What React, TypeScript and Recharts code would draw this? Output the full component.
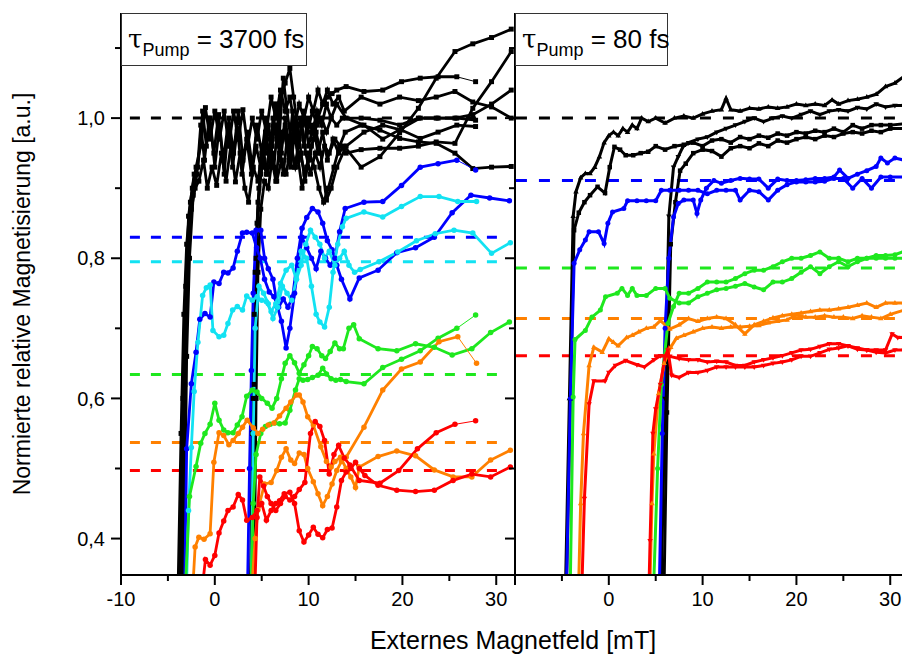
import React from 'react';
import { LineChart, Line, XAxis, YAxis } from 'recharts';

type Pt = [number, number];
type MarkerKind = 'square' | 'circle' | 'tri' | 'triDown';

interface Series {
  pts: Pt[];
  color: string;
  marker: MarkerKind;
  thinTail?: boolean;
}

const FONT = '"Liberation Sans", Arial, Helvetica, sans-serif';

const BLACK = '#000000';
const BLUE = '#0000ff';
const CYAN = '#12e2f2';
const GREEN = '#1ee81e';
const ORANGE = '#ff8000';
const RED = '#ff0000';

const X_DOMAIN: [number, number] = [-10, 32];
const Y_DOMAIN: [number, number] = [0.348, 1.15];
const X_TICKS = [-10, -5, 0, 5, 10, 15, 20, 25, 30];
const Y_TICKS = [0.4, 0.5, 0.6, 0.7, 0.8, 0.9, 1.0, 1.1];

// ---------- left panel: tau_pump = 3700 fs ----------
const left3700Black1: Pt[] = [[-3.9,0.34],[-3.6,0.55],[-3.3,0.72],[-3.0,0.82],[-2.6,0.88],[-2.2,0.92],[-1.8,0.93],[-1.3,1.01],[-0.9,0.96],[-0.5,1.0],[0.0,0.93],[0.5,0.99],[1.0,0.92],[1.5,1.0],[2.0,0.95],[2.5,1.01],[3.0,0.94],[3.5,0.98],[4.0,0.93],[4.5,0.99],[5.0,0.95],[5.5,1.0],[6.0,0.96],[6.5,1.02],[7.0,0.97],[7.5,0.99],[8.0,0.95],[8.5,1.0],[9.0,0.97],[9.5,1.01],[10.0,0.96],[10.5,0.99],[11.0,0.95],[11.5,0.98],[12.0,0.94],[12.6,0.97],[13.2,0.95],[13.8,0.96],[15.6,0.93],[17.6,0.945],[19.7,0.979],[21.7,1.014],[23.6,1.057],[25.6,1.095],[27.5,1.106],[29.5,1.115],[31.6,1.127]];
const left3700Black2: Pt[] = [[-3.7,0.34],[-3.4,0.6],[-3.1,0.76],[-2.8,0.86],[-2.4,0.9],[-2.0,0.93],[-1.5,0.96],[-1.0,1.015],[-0.5,0.97],[0.0,1.01],[0.5,0.97],[1.0,1.01],[1.5,0.96],[2.0,1.01],[2.5,0.97],[3.0,1.012],[3.5,0.96],[4.0,1.0],[4.5,0.97],[5.0,1.01],[5.5,0.98],[6.0,1.03],[6.5,1.0],[7.0,1.04],[7.5,1.01],[8.0,1.03],[8.5,0.99],[9.0,1.02],[9.5,1.0],[10.0,1.03],[10.5,1.01],[11.0,1.04],[11.5,1.02],[12.0,1.04],[12.6,1.02],[13.2,1.03],[13.8,1.01],[15.6,1.03],[17.6,1.02],[19.7,1.03],[21.7,1.025],[23.6,1.03],[25.6,1.038],[27.5,1.023],[29.5,1.016],[31.6,1.0]];
const left3700Black3: Pt[] = [[-3.5,0.34],[-3.2,0.62],[-2.9,0.8],[-2.5,0.87],[-2.1,0.9],[-1.7,0.91],[-1.2,0.94],[-0.8,0.9],[-0.3,0.93],[0.2,0.904],[0.7,0.95],[1.2,0.91],[1.7,0.96],[2.2,0.909],[2.7,0.95],[3.2,0.9],[3.6,0.88],[4.1,0.93],[4.6,0.91],[5.1,0.96],[5.6,0.92],[6.1,0.95],[6.6,0.91],[7.1,0.94],[7.6,0.92],[8.1,0.96],[8.6,0.93],[9.1,0.95],[9.6,0.92],[10.1,0.95],[10.6,0.93],[11.1,0.9],[11.6,0.88],[12.1,0.9],[12.7,0.93],[13.3,0.96],[13.9,0.98],[15.6,0.99],[17.6,0.983],[19.7,0.971],[21.7,0.966],[23.6,0.964],[25.6,0.95],[27.5,0.928],[29.5,0.93],[31.6,0.931]];
const left3700Black4: Pt[] = [[-3.3,0.34],[-3.0,0.66],[-2.7,0.8],[-2.3,0.89],[-1.9,0.92],[-1.5,0.99],[-1.1,0.94],[-0.6,1.0],[-0.1,0.95],[0.4,1.005],[0.9,0.94],[1.4,0.99],[1.9,0.93],[2.4,0.985],[2.9,0.92],[3.4,0.97],[3.9,0.92],[4.4,0.96],[4.9,0.93],[5.4,0.98],[5.9,0.94],[6.4,0.99],[6.9,0.95],[7.4,0.98],[7.9,0.94],[8.4,0.99],[8.9,0.96],[9.4,1.0],[9.9,0.98],[10.4,1.01],[10.9,0.99],[11.4,1.0],[11.9,0.98],[12.4,1.0],[13.0,0.99],[13.6,1.0],[15.6,1.0],[17.6,0.997],[19.7,0.99],[21.7,1.0],[23.6,1.0],[25.6,1.0],[27.5,1.005],[29.5,1.02],[31.6,1.04]];
const left3700Black5: Pt[] = [[3.8,0.34],[4.0,0.55],[4.2,0.72],[4.5,0.85],[4.9,0.92],[5.3,0.95],[5.7,0.99],[6.1,0.96],[6.5,1.02],[6.9,0.98],[7.3,1.057],[7.7,1.01],[8.1,0.97],[8.5,0.93],[8.9,0.96],[9.3,0.99],[9.7,0.95],[10.2,0.92],[10.7,0.95],[11.2,0.93],[11.7,0.96],[12.2,0.95],[12.8,0.97],[13.4,0.96],[14.0,0.95],[15.6,0.955],[17.6,0.957],[19.7,0.957],[21.7,0.96],[23.6,0.966],[25.6,0.964],[27.5,1.014],[29.5,1.052],[31.6,1.095]];
const left3700Black6: Pt[] = [[3.9,0.34],[4.1,0.6],[4.3,0.78],[4.6,0.88],[5.0,0.93],[5.4,0.97],[5.8,0.94],[6.2,1.0],[6.6,0.97],[7.0,1.03],[7.5,1.05],[8.0,1.071],[8.4,1.03],[8.8,0.99],[9.2,0.95],[9.6,0.91],[10.0,0.94],[10.5,0.97],[11.0,1.0],[11.5,1.02],[12.0,1.03],[12.5,1.035],[13.0,1.04],[14.0,1.045],[15.9,1.038],[17.9,1.04],[19.9,1.052],[21.9,1.057],[23.8,1.059],[25.8,1.059],[27.8,1.052]];
const left3700Black7: Pt[] = [[4.0,0.34],[4.2,0.62],[4.4,0.8],[4.7,0.9],[5.1,0.94],[5.5,0.92],[5.9,0.97],[6.3,0.93],[6.7,0.99],[7.1,0.95],[7.5,1.0],[7.9,0.96],[8.3,1.01],[8.7,0.97],[9.1,1.0],[9.5,0.96],[9.9,1.0],[10.4,0.98],[10.9,1.01],[11.4,0.99],[11.9,1.02],[12.4,1.0],[13.0,1.02],[14.0,1.0],[15.9,0.99],[17.9,0.97],[19.9,0.985],[21.9,1.0],[23.8,1.0],[25.8,1.0],[27.8,0.997]];
const left3700Black8: Pt[] = [[4.2,0.34],[4.4,0.6],[4.6,0.78],[4.9,0.87],[5.3,0.91],[5.7,0.9],[6.1,0.94],[6.5,0.91],[6.9,0.96],[7.3,0.92],[7.7,0.97],[8.1,0.93],[8.5,0.98],[8.9,0.94],[9.3,0.9],[9.8,0.93],[10.3,0.96],[10.8,0.98],[11.3,0.95],[11.9,0.883],[12.4,0.9],[13.0,0.93],[14.0,0.96],[15.9,0.98],[17.9,0.99],[19.9,0.983],[21.9,0.971],[23.8,0.98],[25.8,0.99],[27.8,0.988]];

const left3700BlueDown: Pt[] = [[-3.2,0.34],[-3.0,0.528],[-2.5,0.621],[-2.0,0.666],[-1.6,0.713],[-1.05,0.721],[-0.5,0.716],[-0.1,0.766],[0.45,0.764],[0.95,0.78],[1.4,0.779],[1.95,0.786],[2.4,0.81],[2.95,0.836],[3.4,0.837],[4.0,0.836],[4.45,0.815],[4.85,0.8],[5.3,0.77],[5.8,0.752],[6.3,0.745],[6.8,0.73],[7.3,0.742],[7.8,0.73],[8.3,0.745],[8.8,0.8],[9.3,0.843],[9.8,0.858],[10.4,0.871],[11.0,0.866],[11.5,0.85],[12.0,0.825],[12.5,0.812],[13.0,0.79],[13.5,0.77],[14.4,0.742],[15.4,0.772],[17.4,0.783],[19.4,0.808],[21.4,0.815],[23.4,0.83],[25.3,0.865],[27.3,0.89],[29.3,0.886],[31.4,0.882]];
const left3700BlueUp: Pt[] = [[3.5,0.34],[3.7,0.5],[3.9,0.64],[4.1,0.75],[4.4,0.84],[4.9,0.84],[5.3,0.8],[5.7,0.785],[6.2,0.77],[6.7,0.73],[7.1,0.71],[7.6,0.672],[8.0,0.7],[8.5,0.75],[8.9,0.79],[9.3,0.83],[9.8,0.815],[10.3,0.8],[10.8,0.785],[11.3,0.81],[11.8,0.8],[12.3,0.79],[12.8,0.8],[13.3,0.838],[13.9,0.871],[15.9,0.88],[17.9,0.881],[19.9,0.904],[21.9,0.93],[23.8,0.935],[25.8,0.94],[27.8,0.926]];
const left3700CyanDown: Pt[] = [[-3.0,0.34],[-2.8,0.44],[-2.5,0.53],[-2.2,0.61],[-1.8,0.68],[-1.3,0.747],[-0.9,0.758],[-0.5,0.762],[-0.2,0.697],[0.45,0.688],[0.95,0.69],[1.4,0.707],[1.9,0.726],[2.4,0.731],[2.95,0.726],[3.4,0.746],[4.0,0.74],[4.5,0.745],[5.0,0.74],[5.5,0.738],[6.0,0.724],[6.5,0.735],[7.0,0.764],[7.6,0.783],[8.2,0.79],[8.7,0.77],[9.2,0.81],[9.8,0.8],[10.3,0.76],[10.8,0.72],[11.2,0.709],[11.7,0.702],[12.2,0.73],[12.6,0.78],[13.1,0.82],[13.6,0.845],[14.0,0.857],[15.9,0.866],[17.9,0.859],[19.9,0.874],[21.9,0.888],[23.9,0.888],[25.9,0.881],[27.9,0.881]];
const left3700CyanUp: Pt[] = [[3.9,0.34],[4.1,0.55],[4.3,0.7],[4.7,0.76],[5.2,0.75],[5.7,0.735],[6.2,0.714],[6.7,0.73],[7.2,0.76],[7.7,0.75],[8.2,0.74],[8.7,0.77],[9.2,0.79],[9.7,0.82],[10.2,0.84],[10.7,0.83],[11.2,0.82],[11.7,0.8],[12.2,0.81],[12.8,0.79],[13.3,0.8],[13.8,0.81],[14.3,0.79],[14.9,0.78],[15.5,0.784],[17.5,0.795],[19.5,0.809],[21.5,0.825],[23.5,0.835],[25.5,0.84],[27.5,0.836],[29.5,0.807],[31.5,0.822]];
const left3700GreenDown: Pt[] = [[-3.1,0.34],[-2.7,0.46],[-2.0,0.503],[-1.5,0.536],[-1.05,0.55],[-0.5,0.563],[0.0,0.593],[0.45,0.569],[0.95,0.555],[1.4,0.551],[1.95,0.551],[2.4,0.562],[2.9,0.574],[3.4,0.603],[4.0,0.612],[4.5,0.609],[5.0,0.6],[5.6,0.593],[6.1,0.586],[6.6,0.6],[7.1,0.628],[7.5,0.65],[8.0,0.661],[8.5,0.651],[9.0,0.636],[9.5,0.648],[10.0,0.661],[10.4,0.674],[10.9,0.671],[11.4,0.661],[11.8,0.657],[12.3,0.667],[12.8,0.679],[13.3,0.671],[13.7,0.671],[14.3,0.7],[14.8,0.705],[15.4,0.685],[17.4,0.671],[19.4,0.668],[21.4,0.678],[23.4,0.673],[25.3,0.662],[27.4,0.671],[29.4,0.694],[31.4,0.709]];
const left3700GreenUp: Pt[] = [[3.9,0.34],[4.1,0.45],[4.4,0.52],[4.9,0.55],[5.4,0.56],[5.9,0.563],[6.4,0.565],[6.9,0.564],[7.5,0.565],[8.0,0.583],[8.6,0.612],[9.0,0.628],[9.4,0.626],[9.9,0.627],[10.4,0.63],[11.0,0.633],[11.5,0.643],[11.9,0.635],[12.4,0.628],[12.9,0.626],[13.4,0.627],[14.0,0.624],[15.9,0.621],[17.9,0.644],[19.9,0.656],[21.9,0.668],[23.8,0.686],[25.8,0.7],[27.8,0.719]];
const left3700OrangeDown: Pt[] = [[-2.3,0.34],[-2.1,0.388],[-1.7,0.402],[-1.15,0.399],[-0.5,0.407],[-0.1,0.509],[0.45,0.551],[0.95,0.547],[1.5,0.534],[1.95,0.54],[2.5,0.55],[2.95,0.559],[3.45,0.569],[4.1,0.558],[4.6,0.55],[5.1,0.556],[5.7,0.562],[6.3,0.565],[6.9,0.575],[7.6,0.586],[8.1,0.595],[8.7,0.605],[9.0,0.605],[9.4,0.595],[9.9,0.574],[10.5,0.562],[11.3,0.531],[11.9,0.51],[12.4,0.502],[12.8,0.51],[13.4,0.516],[14.0,0.5],[14.5,0.488],[15.0,0.473],[15.4,0.502],[17.4,0.517],[19.4,0.525],[21.4,0.518],[23.4,0.498],[25.4,0.488],[27.4,0.488],[29.4,0.512],[31.5,0.526]];
const left3700OrangeUp: Pt[] = [[4.0,0.34],[4.3,0.4],[4.6,0.441],[5.3,0.478],[6.0,0.48],[6.6,0.497],[7.1,0.516],[7.6,0.528],[8.1,0.512],[8.5,0.507],[9.0,0.522],[9.5,0.52],[9.9,0.5],[10.5,0.481],[11.0,0.464],[11.5,0.447],[12.0,0.46],[12.5,0.478],[13.0,0.497],[13.5,0.51],[14.0,0.516],[15.9,0.559],[17.9,0.612],[19.9,0.642],[21.9,0.652],[23.9,0.681],[25.9,0.688],[27.9,0.65]];
const left3700RedDown: Pt[] = [[-1.25,0.34],[-1.0,0.37],[-0.5,0.362],[0.0,0.376],[0.45,0.408],[0.95,0.425],[1.4,0.44],[1.95,0.445],[2.5,0.463],[2.95,0.455],[3.4,0.426],[4.0,0.43],[4.5,0.44],[5.0,0.45],[5.5,0.426],[6.0,0.44],[6.5,0.45],[6.9,0.454],[7.4,0.464],[8.0,0.466],[8.5,0.45],[9.0,0.411],[9.5,0.395],[10.0,0.405],[10.5,0.416],[11.0,0.406],[11.5,0.401],[12.0,0.413],[12.5,0.415],[13.0,0.445],[13.5,0.483],[14.0,0.495],[14.5,0.5],[15.0,0.509],[15.4,0.5],[16.0,0.49],[17.4,0.476],[19.4,0.469],[21.4,0.467],[23.4,0.469],[25.4,0.483],[27.4,0.492],[29.4,0.488],[31.5,0.502]];
const left3700RedUp: Pt[] = [[4.3,0.34],[4.5,0.43],[4.8,0.488],[5.2,0.475],[5.6,0.46],[6.0,0.45],[6.5,0.44],[7.0,0.45],[7.5,0.46],[8.0,0.455],[8.5,0.46],[9.0,0.47],[9.6,0.48],[10.2,0.55],[10.7,0.567],[11.2,0.56],[11.7,0.54],[12.2,0.492],[12.7,0.52],[13.2,0.533],[13.8,0.515],[14.4,0.505],[15.4,0.483],[17.6,0.479],[19.6,0.497],[21.6,0.528],[23.6,0.551],[25.6,0.563],[27.8,0.568]];

// saturation levels (dashed)
const left3700Levels = [1.0, 0.83, 0.795, 0.634, 0.537, 0.497];
const left3700LevelColors = [BLACK, BLUE, CYAN, GREEN, ORANGE, RED];

// ---------- right panel: tau_pump = 80 fs ----------
const right80Black1: Pt[] = [[-4.6,0.34],[-4.2,0.6],[-3.8,0.86],[-3.5,0.895],[-3.0,0.915],[-2.5,0.921],[-2.0,0.921],[-1.5,0.93],[-1.0,0.945],[-0.5,0.965],[0.0,0.975],[0.5,0.98],[1.0,0.975],[1.5,0.985],[2.0,0.98],[2.5,0.99],[3.0,0.985],[3.5,1.0],[4.2,0.995],[5.0,1.0],[6.0,0.993],[7.0,1.0],[8.0,1.003],[9.0,1.0],[10.0,1.006],[11.0,1.01],[12.0,1.012],[12.5,1.028],[13.0,1.012],[14.0,1.01],[15.0,1.014],[16.0,1.013],[17.0,1.016],[18.0,1.014],[19.0,1.016],[20.0,1.02],[21.0,1.018],[22.0,1.02],[23.0,1.018],[23.8,1.026],[24.5,1.02],[25.5,1.025],[26.5,1.027],[27.5,1.03],[28.5,1.034],[29.5,1.045],[30.5,1.05],[31.5,1.06]];
const right80Black2: Pt[] = [[-4.5,0.34],[-4.1,0.6],[-3.7,0.84],[-3.2,0.865],[-2.6,0.88],[-2.0,0.89],[-1.2,0.902],[-0.4,0.893],[0.1,0.93],[0.6,0.959],[1.2,0.955],[1.8,0.947],[2.6,0.947],[3.4,0.95],[4.2,0.952],[5.0,0.96],[6.0,0.955],[7.0,0.96],[8.0,0.962],[9.0,0.965],[10.0,0.96],[11.0,0.968],[12.0,0.97],[13.0,0.965],[14.0,0.973],[15.0,0.97],[16.0,0.975],[17.0,0.972],[18.0,0.978],[19.0,0.975],[20.0,0.98],[21.0,0.978],[22.0,0.982],[23.0,0.98],[24.0,0.985],[25.0,0.98],[26.0,0.99],[27.0,0.985],[28.0,0.99],[29.0,0.99],[30.0,0.99],[31.5,0.992]];
const right80Black3: Pt[] = [[5.6,0.34],[6.0,0.6],[6.4,0.86],[6.9,0.93],[7.4,0.945],[7.9,0.959],[8.5,0.965],[9.5,0.97],[10.5,0.973],[11.5,0.98],[12.5,0.985],[13.5,0.99],[14.5,0.995],[15.5,1.0],[16.5,0.995],[17.5,1.0],[18.5,1.003],[19.5,1.0],[20.5,1.005],[21.5,1.01],[22.5,1.005],[23.5,1.01],[24.5,1.012],[25.5,1.01],[26.5,1.015],[27.5,1.013],[28.5,1.02],[29.5,1.016],[30.5,1.018],[31.5,1.018]];
const right80Black4: Pt[] = [[5.9,0.34],[6.2,0.58],[6.6,0.82],[7.1,0.88],[7.6,0.925],[8.2,0.935],[9.0,0.95],[10.0,0.955],[11.0,0.953],[12.0,0.945],[13.0,0.957],[14.0,0.96],[15.0,0.957],[16.0,0.964],[17.0,0.96],[18.0,0.968],[19.0,0.965],[20.0,0.97],[21.0,0.973],[22.0,0.97],[23.0,0.975],[24.0,0.973],[25.0,0.978],[26.0,0.98],[27.0,0.978],[28.0,0.982],[29.0,0.98],[30.0,0.985],[31.5,0.985]];
const right80BlueDown: Pt[] = [[-4.5,0.34],[-4.1,0.6],[-3.7,0.793],[-3.1,0.812],[-2.5,0.826],[-2.1,0.838],[-1.1,0.838],[-0.5,0.821],[-0.1,0.85],[0.4,0.866],[1.6,0.871],[2.0,0.882],[3.0,0.882],[4.0,0.882],[5.0,0.882],[5.6,0.897],[6.5,0.897],[7.5,0.897],[8.5,0.897],[9.5,0.897],[10.5,0.892],[11.5,0.897],[12.5,0.897],[13.5,0.897],[14.0,0.883],[15.0,0.897],[16.0,0.895],[17.0,0.883],[18.0,0.897],[19.0,0.905],[20.0,0.909],[21.0,0.909],[22.0,0.909],[23.0,0.91],[24.0,0.914],[25.0,0.914],[26.0,0.9],[27.0,0.914],[28.0,0.9],[29.0,0.916],[30.0,0.916],[31.5,0.916]];
const right80BlueUp: Pt[] = [[5.4,0.34],[5.7,0.55],[6.0,0.7],[6.4,0.8],[6.9,0.859],[7.4,0.878],[8.0,0.883],[9.0,0.883],[9.4,0.864],[9.8,0.883],[10.4,0.9],[11.2,0.911],[12.0,0.907],[13.0,0.911],[14.0,0.914],[15.0,0.913],[16.0,0.913],[17.0,0.9],[18.0,0.913],[19.0,0.911],[20.0,0.911],[21.0,0.912],[22.0,0.914],[23.0,0.914],[24.0,0.916],[24.6,0.926],[25.5,0.914],[26.5,0.92],[27.5,0.925],[28.5,0.931],[29.0,0.943],[29.7,0.936],[30.5,0.943],[31.5,0.94]];
const right80GreenDown: Pt[] = [[-4.1,0.34],[-3.8,0.602],[-3.6,0.684],[-2.5,0.697],[-1.8,0.716],[-0.9,0.726],[-0.35,0.745],[0.9,0.75],[1.4,0.757],[2.0,0.747],[2.5,0.757],[3.0,0.747],[4.0,0.747],[5.0,0.757],[6.0,0.757],[6.5,0.743],[7.5,0.736],[8.5,0.736],[9.5,0.745],[10.5,0.75],[11.5,0.755],[12.5,0.757],[13.5,0.76],[14.5,0.764],[15.5,0.759],[16.5,0.755],[17.5,0.766],[18.5,0.766],[19.5,0.771],[20.5,0.78],[21.5,0.788],[22.5,0.778],[23.5,0.788],[24.5,0.795],[25.5,0.788],[26.5,0.795],[27.5,0.8],[28.5,0.8],[29.5,0.8],[30.5,0.8],[31.5,0.8]];
const right80GreenUp: Pt[] = [[4.8,0.34],[5.2,0.5],[5.6,0.62],[6.3,0.707],[6.9,0.731],[7.5,0.75],[8.5,0.75],[9.5,0.757],[10.5,0.766],[11.5,0.766],[12.5,0.766],[13.5,0.771],[14.5,0.778],[15.5,0.783],[16.5,0.783],[17.5,0.788],[18.5,0.795],[19.5,0.8],[20.5,0.8],[21.5,0.804],[22.5,0.809],[23.5,0.8],[24.5,0.8],[25.5,0.795],[26.5,0.8],[27.5,0.8],[28.5,0.804],[29.5,0.804],[30.5,0.805],[31.5,0.81]];
const right80OrangeDown: Pt[] = [[-3.2,0.34],[-3.0,0.45],[-2.7,0.55],[-2.1,0.647],[-1.6,0.673],[-0.7,0.666],[0.0,0.685],[0.5,0.68],[1.0,0.675],[1.9,0.687],[2.5,0.69],[3.2,0.695],[4.0,0.7],[4.8,0.702],[5.5,0.711],[6.5,0.699],[7.5,0.705],[8.5,0.714],[9.5,0.71],[10.5,0.714],[11.5,0.716],[12.5,0.714],[13.5,0.705],[14.5,0.692],[15.5,0.705],[16.5,0.71],[17.5,0.715],[18.5,0.718],[19.5,0.72],[20.5,0.722],[21.5,0.724],[22.5,0.726],[23.5,0.726],[24.5,0.728],[25.5,0.73],[26.5,0.733],[27.5,0.736],[28.5,0.73],[29.5,0.736],[30.5,0.736],[31.5,0.736]];
const right80OrangeUp: Pt[] = [[4.4,0.34],[4.6,0.45],[4.8,0.521],[5.3,0.607],[5.9,0.65],[6.6,0.673],[7.2,0.686],[8.0,0.69],[9.0,0.695],[10.0,0.7],[11.0,0.702],[12.0,0.7],[13.0,0.702],[14.0,0.702],[15.0,0.703],[16.0,0.704],[17.0,0.708],[18.0,0.71],[19.0,0.712],[20.0,0.719],[21.0,0.716],[22.0,0.716],[23.0,0.718],[24.0,0.716],[25.0,0.716],[26.0,0.714],[27.0,0.718],[28.0,0.716],[29.0,0.714],[30.0,0.72],[31.5,0.726]];
const right80RedDown: Pt[] = [[-2.85,0.34],[-2.6,0.457],[-2.1,0.592],[-1.6,0.625],[-0.4,0.625],[0.0,0.637],[0.7,0.647],[1.8,0.654],[3.0,0.648],[3.8,0.645],[4.8,0.655],[5.5,0.661],[6.5,0.66],[7.5,0.657],[8.5,0.655],[9.5,0.655],[10.5,0.652],[11.5,0.653],[12.5,0.652],[13.5,0.647],[14.5,0.647],[15.5,0.652],[16.5,0.655],[17.5,0.658],[18.5,0.661],[19.5,0.665],[20.5,0.669],[21.5,0.67],[22.5,0.674],[23.5,0.678],[24.5,0.678],[25.5,0.675],[26.5,0.672],[27.5,0.669],[28.5,0.669],[29.5,0.669],[30.2,0.692],[30.8,0.687],[31.5,0.687]];
const right80RedUp: Pt[] = [[4.3,0.34],[4.4,0.397],[4.7,0.55],[5.0,0.585],[5.5,0.62],[6.0,0.66],[6.3,0.669],[6.7,0.633],[7.5,0.63],[8.5,0.637],[9.5,0.637],[10.5,0.64],[11.5,0.645],[12.5,0.645],[13.5,0.645],[14.5,0.645],[15.5,0.645],[16.5,0.647],[17.5,0.65],[18.5,0.652],[19.5,0.655],[20.5,0.66],[21.5,0.66],[22.5,0.665],[23.5,0.67],[24.5,0.672],[25.5,0.675],[26.5,0.67],[27.5,0.669],[28.5,0.666],[29.5,0.665],[30.5,0.669],[31.5,0.669]];

const right80Levels = [1.0, 0.911, 0.786, 0.714, 0.661];
const right80LevelColors = [BLACK, BLUE, GREEN, ORANGE, RED];

const left3700Series: Series[] = [
  { pts: left3700Black1, color: BLACK, marker: 'square' },
  { pts: left3700Black2, color: BLACK, marker: 'square' },
  { pts: left3700Black3, color: BLACK, marker: 'square' },
  { pts: left3700Black4, color: BLACK, marker: 'square' },
  { pts: left3700Black5, color: BLACK, marker: 'square' },
  { pts: left3700Black6, color: BLACK, marker: 'square', thinTail: true },
  { pts: left3700Black7, color: BLACK, marker: 'square' },
  { pts: left3700Black8, color: BLACK, marker: 'square' },
  { pts: left3700BlueDown, color: BLUE, marker: 'circle' },
  { pts: left3700BlueUp, color: BLUE, marker: 'circle', thinTail: true },
  { pts: left3700CyanDown, color: CYAN, marker: 'circle' },
  { pts: left3700CyanUp, color: CYAN, marker: 'circle' },
  { pts: left3700GreenDown, color: GREEN, marker: 'circle' },
  { pts: left3700GreenUp, color: GREEN, marker: 'circle', thinTail: true },
  { pts: left3700OrangeDown, color: ORANGE, marker: 'circle' },
  { pts: left3700OrangeUp, color: ORANGE, marker: 'circle', thinTail: true },
  { pts: left3700RedDown, color: RED, marker: 'circle' },
  { pts: left3700RedUp, color: RED, marker: 'circle', thinTail: true },
];

const right80Series: Series[] = [
  { pts: right80Black1, color: BLACK, marker: 'tri' },
  { pts: right80Black2, color: BLACK, marker: 'square' },
  { pts: right80Black3, color: BLACK, marker: 'triDown' },
  { pts: right80Black4, color: BLACK, marker: 'square' },
  { pts: right80BlueDown, color: BLUE, marker: 'circle' },
  { pts: right80BlueUp, color: BLUE, marker: 'circle' },
  { pts: right80GreenDown, color: GREEN, marker: 'circle' },
  { pts: right80GreenUp, color: GREEN, marker: 'circle' },
  { pts: right80OrangeDown, color: ORANGE, marker: 'tri' },
  { pts: right80OrangeUp, color: ORANGE, marker: 'tri' },
  { pts: right80RedDown, color: RED, marker: 'triDown' },
  { pts: right80RedUp, color: RED, marker: 'triDown' },
];

const toRows = (pts: Pt[]) => pts.map(([x, y]) => ({ x, y }));

function markerShape(kind: MarkerKind, cx: number, cy: number, s: number, color: string, key: string) {
  const h = s / 2;
  if (kind === 'circle') return <circle key={key} cx={cx} cy={cy} r={h} fill={color} />;
  if (kind === 'square') {
    const q = h * 0.9;
    return <rect key={key} x={cx - q} y={cy - q} width={q * 2} height={q * 2} fill={color} />;
  }
  const d = kind === 'tri'
    ? `M${cx},${cy - h * 1.2}L${cx + h * 1.1},${cy + h * 0.7}L${cx - h * 1.1},${cy + h * 0.7}Z`
    : `M${cx},${cy + h * 1.2}L${cx + h * 1.1},${cy - h * 0.7}L${cx - h * 1.1},${cy - h * 0.7}Z`;
  return <path key={key} d={d} fill={color} />;
}

const dotFor = (kind: MarkerKind, color: string, size: number, onlyLast = false) => (p: any) => {
  const key = `m-${p.index}`;
  if (p.cx == null || p.cy == null || (onlyLast && p.index === 0)) return <g key={key} />;
  return markerShape(kind, p.cx, p.cy, size, color, key);
};

const isMajorY = (v: number) => Math.round(v * 10) % 2 === 0;
const isMajorX = (v: number) => v % 10 === 0;

const leftTick = (labels: boolean) => (p: any) => {
  const v: number = p.payload.value;
  const major = isMajorY(v);
  return (
    <g key={`yl-${v}`}>
      <line x1={p.x - (major ? 10 : 6)} x2={p.x} y1={p.y} y2={p.y} stroke="#000" strokeWidth={2} />
      {labels && major && (
        <text x={p.x - 16} y={p.y} dy="0.36em" textAnchor="end" fontSize={20} fontFamily={FONT} fill="#000">
          {v.toFixed(1).replace('.', ',')}
        </text>
      )}
    </g>
  );
};

const rightTick = (p: any) => {
  const v: number = p.payload.value;
  const len = isMajorY(v) ? 10 : 6;
  return <line key={`yr-${v}`} x1={p.x - len} x2={p.x} y1={p.y} y2={p.y} stroke="#000" strokeWidth={2} />;
};

const bottomTick = (skipFirst: boolean) => (p: any) => {
  const v: number = p.payload.value;
  const major = isMajorX(v);
  return (
    <g key={`xb-${v}`}>
      <line x1={p.x} x2={p.x} y1={p.y} y2={p.y + (major ? 10 : 6)} stroke="#000" strokeWidth={2} />
      {major && !(skipFirst && v === -10) && (
        <text x={p.x} y={p.y + 31} textAnchor="middle" fontSize={20} fontFamily={FONT} fill="#000">
          {v}
        </text>
      )}
    </g>
  );
};

const topTick = (p: any) => {
  const v: number = p.payload.value;
  const len = isMajorX(v) ? 10 : 7;
  return <line key={`xt-${v}`} x1={p.x} x2={p.x} y1={p.y} y2={p.y + len} stroke="#000" strokeWidth={2} />;
};

interface PanelProps {
  width: number;
  yAxisWidth: number;
  yLabels: boolean;
  skipFirstX: boolean;
  series: Series[];
  levels: number[];
  levelColors: string[];
  levelSpan: [number, number];
  dash: string;
  lineWidth: number;
  markerSize: number;
}

function Panel(props: PanelProps) {
  const { width, yAxisWidth, yLabels, skipFirstX, series, levels, levelColors, levelSpan, dash, lineWidth, markerSize } = props;
  const axisLine = { stroke: '#000', strokeWidth: 2 };
  const lines: React.ReactElement[] = [];

  levels.forEach((lv, i) => {
    lines.push(
      <Line
        key={`lv-${i}`}
        xAxisId="b"
        yAxisId="l"
        data={[{ x: levelSpan[0], y: lv }, { x: levelSpan[1], y: lv }]}
        dataKey="y"
        stroke={levelColors[i]}
        strokeWidth={3}
        strokeDasharray={dash}
        dot={false}
        isAnimationActive={false}
      />
    );
  });

  series.forEach((s, i) => {
    const rows = toRows(s.pts);
    const body = s.thinTail ? rows.slice(0, -1) : rows;
    lines.push(
      <Line
        key={`s-${i}`}
        xAxisId="b"
        yAxisId="l"
        data={body}
        dataKey="y"
        stroke={s.color}
        strokeWidth={lineWidth}
        dot={dotFor(s.marker, s.color, markerSize)}
        isAnimationActive={false}
      />
    );
    if (s.thinTail) {
      lines.push(
        <Line
          key={`t-${i}`}
          xAxisId="b"
          yAxisId="l"
          data={rows.slice(-2)}
          dataKey="y"
          stroke={s.color}
          strokeWidth={1}
          dot={dotFor(s.marker, s.color, markerSize, true)}
          isAnimationActive={false}
        />
      );
    }
  });

  return (
    <LineChart width={width} height={659} margin={{ top: 13, right: 5, bottom: 0, left: 0 }}>
      <XAxis xAxisId="b" type="number" dataKey="x" domain={X_DOMAIN} ticks={X_TICKS} interval={0} allowDataOverflow height={84} tickSize={0} tickMargin={0} tickLine={false} axisLine={axisLine} tick={bottomTick(skipFirstX)} />
      <XAxis xAxisId="t" orientation="top" type="number" dataKey="x" domain={X_DOMAIN} ticks={X_TICKS} interval={0} allowDataOverflow height={0} tickSize={0} tickMargin={0} tickLine={false} axisLine={axisLine} tick={topTick} />
      <YAxis yAxisId="l" type="number" domain={Y_DOMAIN} ticks={Y_TICKS} interval={0} allowDataOverflow width={yAxisWidth} tickSize={0} tickMargin={0} tickLine={false} axisLine={axisLine} tick={leftTick(yLabels)} />
      <YAxis yAxisId="r" orientation="right" type="number" domain={Y_DOMAIN} ticks={Y_TICKS} interval={0} allowDataOverflow width={0} tickSize={0} tickMargin={0} tickLine={false} axisLine={axisLine} tick={rightTick} />
      {lines}
    </LineChart>
  );
}

function PumpBox({ left, width, value }: { left: number; width: number; value: string }) {
  return (
    <div
      style={{
        position: 'absolute',
        left,
        top: 13,
        width,
        height: 53,
        boxSizing: 'border-box',
        border: '1px solid #333',
        background: '#fff',
        fontFamily: FONT,
        fontSize: 26,
        lineHeight: '51px',
        paddingLeft: 6,
        whiteSpace: 'nowrap',
        color: '#000',
      }}
    >
      <span style={{ fontFamily: '"DejaVu Serif", serif' }}>τ</span>
      <span style={{ fontSize: 18, position: 'relative', top: 8 }}>Pump</span>
      {` = ${value} fs`}
    </div>
  );
}

export default function App() {
  return (
    <div style={{ position: 'absolute', left: 0, top: 0, width: 902, height: 659, overflow: 'hidden', background: '#fff' }}>
      <div style={{ position: 'absolute', left: 0, top: 0 }}>
        <Panel
          width={520}
          yAxisWidth={121}
          yLabels
          skipFirstX={false}
          series={left3700Series}
          levels={left3700Levels}
          levelColors={left3700LevelColors}
          levelSpan={[-9.05, 30.9]}
          dash="10 11"
          lineWidth={2.8}
          markerSize={5.5}
        />
      </div>
      <div style={{ position: 'absolute', left: 503, top: 0 }}>
        <Panel
          width={411}
          yAxisWidth={12}
          yLabels={false}
          skipFirstX
          series={right80Series}
          levels={right80Levels}
          levelColors={right80LevelColors}
          levelSpan={[-9.9, 30.5]}
          dash="11 12"
          lineWidth={3}
          markerSize={5}
        />
      </div>
      <PumpBox left={121} width={186} value="3700" />
      <PumpBox left={515} width={153} value="80" />
      <div
        style={{
          position: 'absolute',
          left: 22,
          top: 294,
          transform: 'translate(-50%, -50%) rotate(-90deg)',
          whiteSpace: 'nowrap',
          fontFamily: FONT,
          fontSize: 23,
          color: '#000',
        }}
      >
        Normierte relative Magnetisierung [a.u.]
      </div>
      <div
        style={{
          position: 'absolute',
          left: 513,
          top: 640,
          transform: 'translate(-50%, -50%)',
          whiteSpace: 'nowrap',
          fontFamily: FONT,
          fontSize: 25,
          color: '#000',
        }}
      >
        Externes Magnetfeld [mT]
      </div>
    </div>
  );
}
